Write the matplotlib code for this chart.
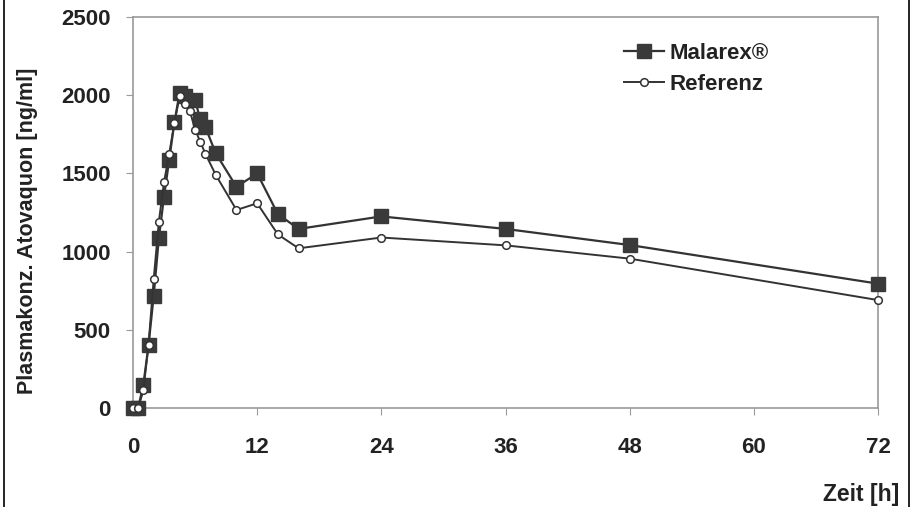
import matplotlib.pyplot as plt
from matplotlib.lines import Line2D

plt.rcParams['font.family'] = ['Liberation Sans', 'DejaVu Sans']

# Zeitpunkte [h] und Plasmakonzentrationen [ng/ml]
zeit_malarex = [0, 0.5, 1, 1.5, 2, 2.5, 3, 3.5, 4, 4.5, 5, 6, 6.5, 7, 8, 10, 12, 14, 16, 24, 36, 48, 72]
malarex = [0, 0, 150, 400, 718, 1087, 1352, 1588, 1826, 2015, 1998, 1968, 1845, 1795, 1628, 1414, 1500, 1240, 1145, 1225, 1145, 1042, 795]

zeit_referenz = [0, 0.5, 1, 1.5, 2, 2.5, 3, 3.5, 4, 4.5, 5, 5.5, 6, 6.5, 7, 8, 10, 12, 14, 16, 24, 36, 48, 72]
referenz = [0, 0, 112, 405, 823, 1192, 1445, 1625, 1822, 1992, 1942, 1898, 1780, 1702, 1625, 1490, 1266, 1309, 1110, 1021, 1090, 1040, 955, 690]

x_ticks = [0, 12, 24, 36, 48, 60, 72]
y_ticks = [0, 500, 1000, 1500, 2000, 2500]

fig = plt.figure(figsize=(9.13, 5.07), dpi=100)
ax = fig.add_axes([133/913, 1-408/507, (878-133)/913, (408-17)/507])

ax.plot(zeit_malarex, malarex, color='#333333', lw=1.6, marker='s', markersize=9.5,
        markerfacecolor='#3a3a3a', markeredgecolor='#3a3a3a', label='Malarex®',
        zorder=3, clip_on=False)
ax.plot(zeit_referenz, referenz, color='#333333', lw=1.4, marker='o', markersize=5.5,
        markerfacecolor='white', markeredgecolor='#333333', markeredgewidth=1.1,
        label='Referenz', zorder=4, clip_on=False)

ax.set_xlim(0, 72)
ax.set_ylim(0, 2500)
ax.set_xticks(x_ticks)
ax.set_yticks(y_ticks)
for s in ax.spines.values():
    s.set_color('#9a9a9a')
    s.set_linewidth(1.2)
ax.tick_params(direction='out', length=5, color='#9a9a9a', labelsize=16,
               labelcolor='#222222')
ax.tick_params(axis='x', pad=16)
ax.tick_params(axis='y', pad=11)
for lab in ax.get_xticklabels() + ax.get_yticklabels():
    lab.set_fontweight('bold')

fig.text(28/913, 1-231/507, 'Plasmakonz. Atovaquon [ng/ml]', rotation=90,
         ha='center', va='center', fontsize=15.5, fontweight='bold', color='#222222')
fig.text(899/913, 1-495/507, 'Zeit [h]', ha='right', va='center', fontsize=16.5,
         fontweight='bold', color='#222222')

leg = ax.legend(loc='upper left', bbox_to_anchor=(613/913, 1-32/507),
                bbox_transform=fig.transFigure, frameon=False, borderpad=0,
                fontsize=16, handlelength=1.8, handletextpad=0.25, labelspacing=0.45)
for t in leg.get_texts():
    t.set_fontweight('bold')
    t.set_color('#222222')

# schwarzer Rahmen links und rechts
fig.add_artist(Line2D([4/913, 4/913], [0, 1], color='black', lw=1.2))
fig.add_artist(Line2D([909/913, 909/913], [0, 1], color='black', lw=1.2))

fig.savefig('out.png', dpi=100)
